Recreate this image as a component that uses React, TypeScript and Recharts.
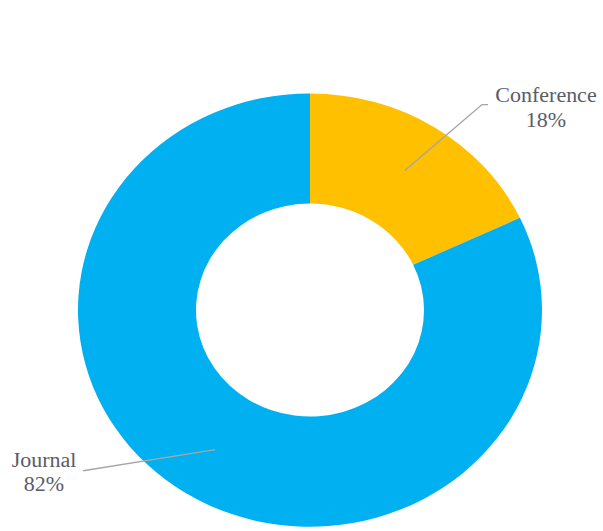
import React from 'react';
import { PieChart, Pie, Cell } from 'recharts';

const CATEGORIES = ['Conference', 'Journal'];
const SHARES = [18, 82];
const COLORS = ['#FFC000', '#00B0F0'];

const DATA = CATEGORIES.map((name, i) => ({ name, value: SHARES[i] }));

const RADIAN = Math.PI / 180;
const SQUASH = 0.934; // the source picture is slightly flattened vertically
const TEXT = '#5a5d68';
const LINE = '#a6a6a6';
const FONT = "'Liberation Serif', 'Times New Roman', serif";

// callout placement (relative to the pie centre), one entry per slice
const CALLOUTS = [
    { elbow: [172, -220], end: [178, -220], text: [236, -218] },
    { elbow: null, end: [-227, 172], text: [-266, 172] },
];

const renderLabel = (props: any) => {
    const { cx, cy, midAngle, innerRadius, outerRadius, index, name, percent } = props;
    const r = (innerRadius + outerRadius) / 2 + 4;
    const sx = cx + r * Math.cos(-midAngle * RADIAN);
    const sy = cy + r * Math.sin(-midAngle * RADIAN);
    const c = CALLOUTS[index];
    const pts = [[sx, sy]];
    if (c.elbow) pts.push([cx + c.elbow[0], cy + c.elbow[1]]);
    pts.push([cx + c.end[0], cy + c.end[1]]);
    const tx = cx + c.text[0];
    const ty = cy + c.text[1];
    return (
        <g>
            <polyline
                points={pts.map((p) => p.join(',')).join(' ')}
                fill="none"
                stroke={LINE}
                strokeWidth={1.5}
            />
            <text x={tx} y={ty} textAnchor="middle" fill={TEXT}
                style={{ fontFamily: FONT, fontSize: 22 }}>
                <tspan x={tx} dy="-0.2em">{name}</tspan>
                <tspan x={tx} dy="1.2em">{`${Math.round(percent * 100)}%`}</tspan>
            </text>
        </g>
    );
};

export default function App() {
    return (
        <div style={{ position: 'fixed', top: 0, left: 0, width: 603, height: 531, overflow: 'hidden', background: '#fff' }}>
            <div style={{ transform: `scaleY(${SQUASH})`, transformOrigin: '0 0' }}>
                <PieChart width={603} height={571} margin={{ top: 0, right: 0, bottom: 0, left: 0 }}>
                    <Pie
                        data={DATA}
                        dataKey="value"
                        nameKey="name"
                        cx={310}
                        cy={332}
                        innerRadius={114}
                        outerRadius={232}
                        startAngle={90}
                        endAngle={-270}
                        stroke="none"
                        label={renderLabel}
                        labelLine={false}
                        isAnimationActive={false}
                    >
                        {DATA.map((d, i) => (
                            <Cell key={d.name} fill={COLORS[i]} />
                        ))}
                    </Pie>
                </PieChart>
            </div>
        </div>
    );
}
